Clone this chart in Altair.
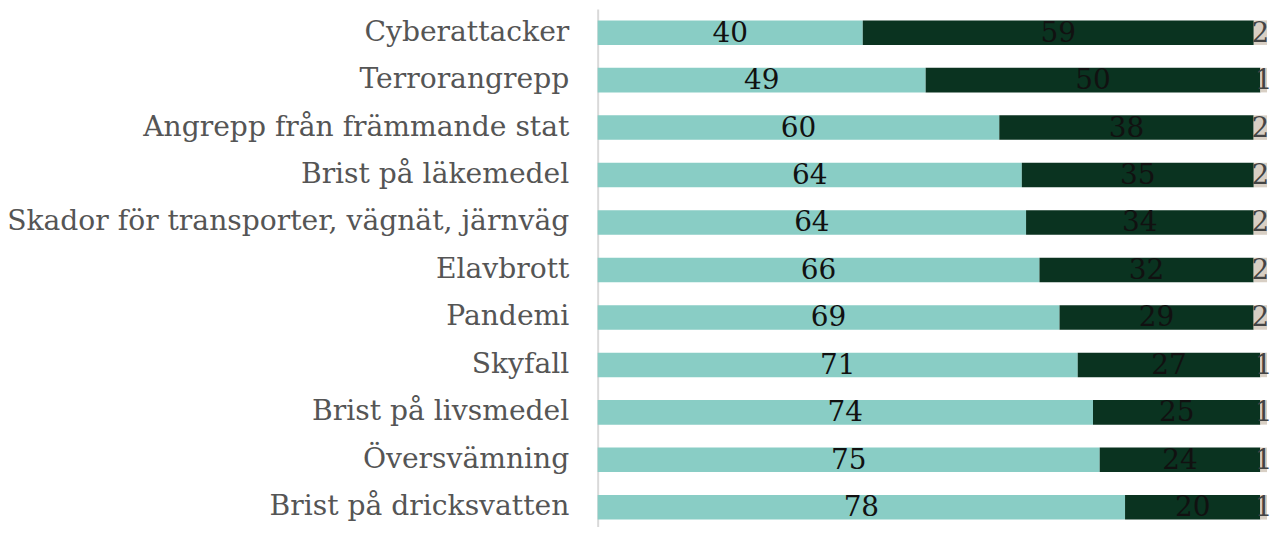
import altair as alt
import pandas as pd

categories = [
    "Cyberattacker",
    "Terrorangrepp",
    "Angrepp från främmande stat",
    "Brist på läkemedel",
    "Skador för transporter, vägnät, järnväg",
    "Elavbrott",
    "Pandemi",
    "Skyfall",
    "Brist på livsmedel",
    "Översvämning",
    "Brist på dricksvatten",
]
series1 = [40, 49, 60, 64, 64, 66, 69, 71, 74, 75, 78]
series2 = [59, 50, 38, 35, 34, 32, 29, 27, 25, 24, 20]
series3 = [2, 1, 2, 2, 2, 2, 2, 1, 1, 1, 1]

rows = []
for c, a, b, d in zip(categories, series1, series2, series3):
    rows.append({"cat": c, "grp": 1, "value": a})
    rows.append({"cat": c, "grp": 2, "value": b})
    rows.append({"cat": c, "grp": 3, "value": d})
df = pd.DataFrame(rows)

FONT = "DejaVu Serif"

base = (
    alt.Chart(df)
    .transform_joinaggregate(total="sum(value)", groupby=["cat"])
    .transform_calculate(pct="datum.value / datum.total")
    .transform_stack(stack="pct", as_=["x0", "x1"], groupby=["cat"], sort=[alt.SortField("grp")])
    .transform_calculate(mid="(datum.x0 + datum.x1) / 2")
)

yscale = alt.Scale(paddingInner=0.483, paddingOuter=0.24, range=[0, 524])

y = alt.Y(
    "cat:N",
    sort=categories,
    title=None,
    scale=yscale,
    axis=alt.Axis(
        labelFont=FONT,
        labelFontSize=28.3,
        labelColor="#555555",
        labelPadding=29,
        labelLimit=800,
        ticks=False,
        domain=True,
        domainColor="#d9d9d9",
        domainWidth=2,
        grid=False,
    ),
)

xscale = alt.Scale(domain=[0, 1], nice=False, zero=True)

bars = base.mark_bar().encode(
    y=y,
    x=alt.X("x0:Q", scale=xscale, axis=None),
    x2="x1:Q",
    color=alt.Color(
        "grp:N",
        scale=alt.Scale(domain=[1, 2, 3], range=["#89cdc5", "#0a3320", "#d8cfc4"]),
        legend=None,
    ),
)

text = base.mark_text(font=FONT, fontSize=28, baseline="middle", dy=1).encode(
    y=alt.Y("cat:N", sort=categories, scale=yscale),
    x=alt.X("mid:Q", scale=xscale),
    text=alt.Text("value:Q"),
    color=alt.Color(
        "grp:N",
        scale=alt.Scale(domain=[1, 2, 3], range=["#111111", "#111111", "#444444"]),
        legend=None,
    ),
)

chart = (
    alt.layer(bars, text)
    .resolve_scale(color="independent")
    .properties(
        width=672,
        height=519,
        autosize=alt.AutoSizeParams(type="none"),
        padding={"left": 592, "top": 0, "right": 8, "bottom": 0},
    )
    .configure_view(stroke=None)
)

chart.save("out.html", embed_options={"renderer": "svg", "actions": False})
